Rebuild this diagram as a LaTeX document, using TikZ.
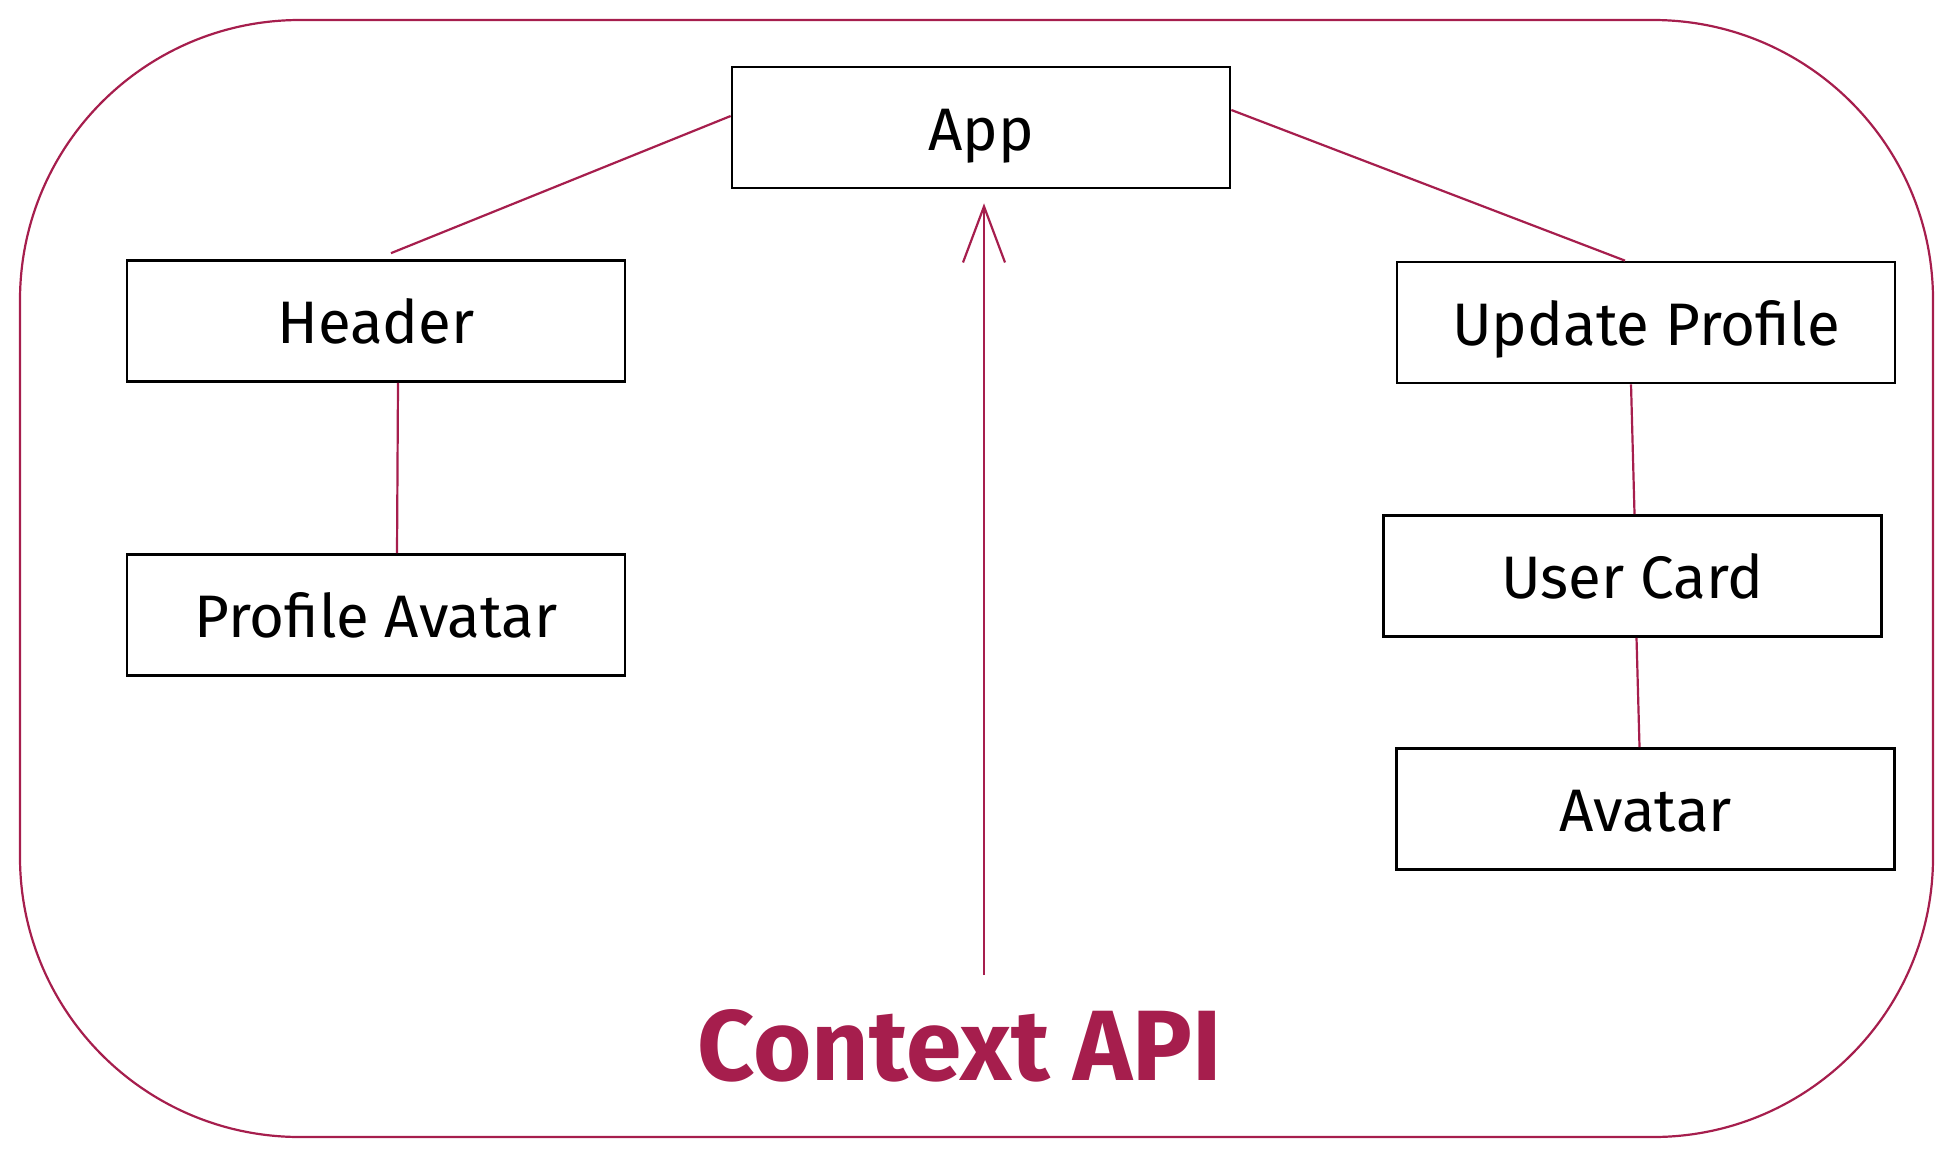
\documentclass[tikz,border=0pt]{standalone}
\usepackage{fontspec}
\setmainfont{Fira Sans}
\usetikzlibrary{arrows.meta,calc}
\definecolor{crim}{HTML}{A61E4D}
\begin{document}
\begin{tikzpicture}[x=0.5pt,y=-0.5pt,
  box/.style={draw=black,line width=1.35pt,minimum width=249pt,minimum height=60.5pt,inner sep=0pt,
    text height=24pt,text depth=1.4pt,font=\fontsize{30}{36}\selectfont},
  link/.style={draw=crim,line width=1.1pt}]
\useasboundingbox (0,0) rectangle (1952,1157);
\draw[crim,line width=1.1pt,rounded corners=140pt] (20,20) rectangle (1933,1137);
\node[box] (app) at (981,127.5) {App};
\node[box] (header) at (376,321) {Header};
\node[box] (pa) at (376,615) {Profile Avatar};
\node[box] (upd) at (1646,322.5) {Update Profile};
\node[box] (uc) at (1632.5,576) {User Card};
\node[box] (av) at (1645.5,809) {Avatar};
\node[crim,font=\fontsize{50}{60}\selectfont\bfseries] (ctx) at (960,1046) {Context API};
\coordinate (tail) at (984,975);
\draw[link] ([yshift=5.75pt]app.west) -- ([xshift=7.5pt,yshift=3pt]header.north);
\draw[link] ([yshift=8.75pt]app.east) -- ([xshift=-10.5pt]upd.north);
\draw[link] ([xshift=11pt]header.south) -- ([xshift=10.5pt]pa.north);
\draw[link] ([xshift=-7.5pt]upd.south) -- ([xshift=1pt]uc.north);
\draw[link] ([xshift=2pt]uc.south) -- ([xshift=-3pt]av.north);
\draw[link,-{Straight Barb[length=28pt,width=21pt,line width=1.1pt]},shorten >=7pt] (tail) -- (tail |- app.south);
\end{tikzpicture}
\end{document}
